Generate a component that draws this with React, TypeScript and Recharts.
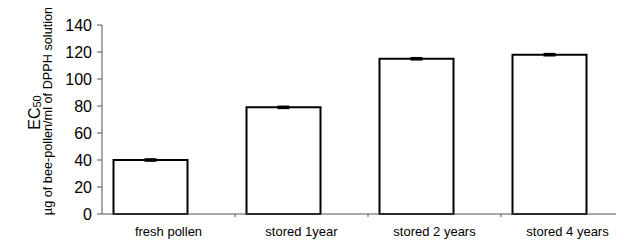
import React from "react";
import { BarChart, Bar, XAxis, YAxis, ErrorBar } from "recharts";

const categories = ["fresh pollen", "stored 1year", "stored 2 years", "stored 4 years"];
const ec50Values = [40, 79, 115, 118];
const errValues = [0.6, 0.6, 0.6, 0.6];
const yTicks = [0, 20, 40, 60, 80, 100, 120, 140];

const data = categories.map((c, i) => ({ category: c, value: ec50Values[i], err: errValues[i] }));

const FONT = "'Liberation Sans', Arial, sans-serif";

const XTick = (props: any) => {
  const { x, y, payload } = props;
  return (
    <g>
      <line x1={x + 66.5} x2={x + 66.5} y1={y} y2={y + 3} stroke="#555" strokeWidth={1} />
      <text x={x} y={y + 22} textAnchor="middle" fontFamily={FONT} fontSize={13} fill="#000">
        {payload.value}
      </text>
    </g>
  );
};

const YLabel = () => (
  <g>
    <text transform="translate(31.5,104.5) rotate(-90)" textAnchor="middle" fontFamily={FONT} fontSize={16} fill="#000">
      EC<tspan fontSize={11} dy={1.5}>50</tspan>
    </text>
    <text transform="translate(43.5,103) rotate(-90)" textAnchor="middle" fontFamily={FONT} fontSize={12.7} fill="#000">
      µg of bee-pollen/ml of DPPH solution
    </text>
  </g>
);

export default function App() {
  return (
    <div style={{ width: 616, height: 233, overflow: "hidden" }}>
      <BarChart
        width={626}
        height={233}
        data={data}
        margin={{ top: 17, right: 0, bottom: 0, left: 0 }}
        barCategoryGap={0}
      >
        <XAxis
          xAxisId="l"
          dataKey="category"
          height={27}
          axisLine={{ stroke: "#555", strokeWidth: 1 }}
          tickLine={false}
          tickSize={0}
          tickMargin={0}
          tick={<XTick />}
          interval={0}
        />
        <XAxis
          xAxisId="b"
          orientation="top"
          dataKey="category"
          hide
          height={0}
          padding={{ left: -18.5, right: 18.5 }}
        />
        <YAxis
          width={94}
          domain={[0, 140]}
          ticks={yTicks}
          interval={0}
          tickSize={5}
          tickMargin={5}
          axisLine={{ stroke: "#555", strokeWidth: 1 }}
          tickLine={{ stroke: "#555", strokeWidth: 1 }}
          tick={{ fill: "#000", fontSize: 16, fontFamily: FONT }}
          label={{ content: () => <YLabel /> }}
        />
        <Bar
          xAxisId="b"
          dataKey="value"
          barSize={74}
          fill="#fff"
          stroke="#000"
          strokeWidth={2}
          isAnimationActive={false}
        >
          <ErrorBar dataKey="err" width={6} stroke="#000" strokeWidth={2} />
        </Bar>
      </BarChart>
    </div>
  );
}
